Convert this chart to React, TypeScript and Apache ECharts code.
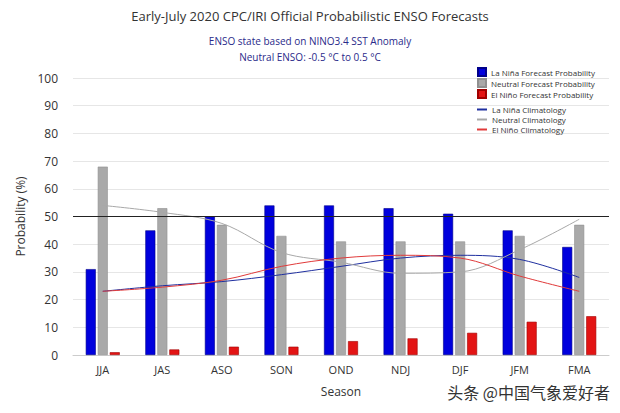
import React, { useEffect, useRef } from "react";
import * as echarts from "echarts";

const seasons = ["JJA", "JAS", "ASO", "SON", "OND", "NDJ", "DJF", "JFM", "FMA"];
const laNinaProb = [31, 45, 50, 54, 54, 53, 51, 45, 39];
const neutralProb = [68, 53, 47, 43, 41, 41, 41, 43, 47];
const elNinoProb = [1, 2, 3, 3, 5, 6, 8, 12, 14];
const laNinaClim = [23, 25, 26.5, 29, 32, 35, 36, 34.5, 28];
const neutralClim = [54, 51.5, 47.5, 37, 33.5, 29.5, 30, 38, 49];
const elNinoClim = [23, 24.5, 27, 32, 35, 36, 35, 28.5, 23];
const yTicks = [0, 10, 20, 30, 40, 50, 60, 70, 80, 90, 100];

const FONT = "'Open Sans', 'Liberation Sans', sans-serif";
const C_BLUE = "#0000dd";
const C_GRAY = "#a9a9a9";
const C_RED = "#e31414";
const L_BLUE = "#1f2f9f";
const L_GRAY = "#a8a8a8";
const L_RED = "#e03a3a";

export default function App() {
  const ref = useRef<HTMLDivElement>(null);
  useEffect(() => {
    if (!ref.current) return;
    const chart = echarts.init(ref.current, null, { renderer: "svg" });
    chart.setOption({
      animation: false,
      backgroundColor: "#ffffff",
      textStyle: { fontFamily: FONT },
      title: [
        {
          text: "Early-July 2020 CPC/IRI Official Probabilistic ENSO Forecasts",
          left: "center",
          top: 4,
          textStyle: { fontSize: 13, fontWeight: "normal", color: "#333", fontFamily: FONT },
        },
        {
          text: "ENSO state based on NINO3.4 SST Anomaly\nNeutral ENSO: -0.5 °C to 0.5 °C",
          left: "center",
          top: 28,
          textStyle: { fontSize: 10, lineHeight: 16, fontWeight: "normal", color: "#2a2a8a", fontFamily: FONT },
        },
      ],
      legend: [
        {
          orient: "vertical",
          left: 477,
          top: 67,
          itemWidth: 8,
          itemHeight: 8,
          itemGap: 1,
          icon: "rect",
          padding: 0,
          textStyle: { fontSize: 8, lineHeight: 9, color: "#333", fontFamily: FONT },
          data: [
            { name: "La Niña Forecast Probability", itemStyle: { color: C_BLUE } },
            { name: "Neutral Forecast Probability", itemStyle: { color: C_GRAY } },
            { name: "El Niño Forecast Probability", itemStyle: { color: C_RED } },
          ],
        },
        {
          orient: "vertical",
          left: 477,
          top: 105,
          itemWidth: 10,
          itemHeight: 2,
          itemGap: 1,
          icon: "rect",
          padding: 0,
          itemStyle: { borderWidth: 0 },
          textStyle: { fontSize: 8, lineHeight: 9, color: "#333", fontFamily: FONT },
          data: [
            { name: "La Niña Climatology", itemStyle: { color: L_BLUE, borderWidth: 0 } },
            { name: "Neutral Climatology", itemStyle: { color: L_GRAY, borderWidth: 0 } },
            { name: "El Niño Climatology", itemStyle: { color: L_RED, borderWidth: 0 } },
          ],
        },
      ],
      grid: { left: 73, right: 11, top: 78, bottom: 58 },
      xAxis: {
        type: "category",
        data: seasons,
        name: "Season",
        nameLocation: "middle",
        nameGap: 30,
        nameTextStyle: { fontSize: 12, color: "#333" },
        axisLine: { lineStyle: { color: "#ccc" } },
        axisTick: { show: false },
        axisLabel: { fontSize: 11, color: "#333", margin: 9 },
      },
      yAxis: {
        type: "value",
        min: yTicks[0],
        max: yTicks[yTicks.length - 1],
        interval: 10,
        name: "Probability (%)",
        nameLocation: "middle",
        nameGap: 46,
        nameTextStyle: { fontSize: 12, color: "#333" },
        axisLine: { show: false },
        axisTick: { show: false },
        axisLabel: { fontSize: 12, color: "#333", margin: 15 },
        splitLine: { lineStyle: { color: "#e6e6e6" } },
      },
      series: [
        {
          name: "La Niña Forecast Probability",
          type: "bar",
          data: laNinaProb,
          barWidth: 10,
          barGap: "20%",
          itemStyle: { color: C_BLUE, borderColor: "#00008a", borderWidth: 0.6 },
          markLine: {
            symbol: "none",
            silent: true,
            label: { show: false },
            lineStyle: { color: "#222", width: 1, type: "solid" },
            data: [{ yAxis: 50 }],
          },
        },
        {
          name: "Neutral Forecast Probability",
          type: "bar",
          data: neutralProb,
          barWidth: 10,
          barGap: "20%",
          itemStyle: { color: C_GRAY, borderColor: "#909090", borderWidth: 0.6 },
        },
        {
          name: "El Niño Forecast Probability",
          type: "bar",
          data: elNinoProb,
          barWidth: 10,
          barGap: "20%",
          itemStyle: { color: C_RED, borderColor: "#a00000", borderWidth: 0.6 },
        },
        {
          name: "La Niña Climatology",
          type: "line",
          data: laNinaClim,
          smooth: 0.35,
          showSymbol: false,
          color: L_BLUE,
          itemStyle: { color: L_BLUE },
          lineStyle: { color: L_BLUE, width: 1 },
        },
        {
          name: "Neutral Climatology",
          type: "line",
          data: neutralClim,
          smooth: 0.35,
          showSymbol: false,
          color: L_GRAY,
          itemStyle: { color: L_GRAY },
          lineStyle: { color: L_GRAY, width: 1 },
        },
        {
          name: "El Niño Climatology",
          type: "line",
          data: elNinoClim,
          smooth: 0.35,
          showSymbol: false,
          color: L_RED,
          itemStyle: { color: L_RED },
          lineStyle: { color: L_RED, width: 1 },
        },
      ],
      graphic: [
        {
          type: "text",
          right: 10,
          top: 384,
          style: {
            text: "头条 @中国气象爱好者",
            font: "16px 'Noto Sans CJK SC', sans-serif",
            fill: "#333333",
          },
        },
      ],
    });
    return () => chart.dispose();
  }, []);
  return <div ref={ref} style={{ width: 620, height: 413, position: "fixed", left: 0, top: 0 }} />;
}
